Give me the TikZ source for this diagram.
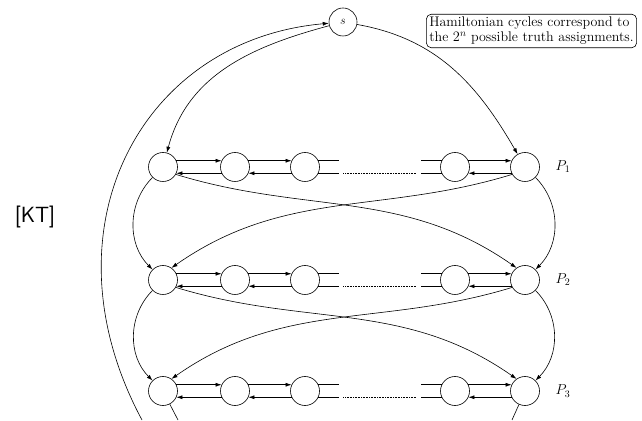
\documentclass[tikz,border=0pt]{standalone}
\usetikzlibrary{arrows.meta}

\begin{document}
\begin{tikzpicture}[x=1pt,y=1pt,line width=0.6pt,
  vtx/.style={circle, draw, minimum size=29pt, inner sep=0pt},
  edge/.style={-{Latex[length=6pt,width=4pt]}}]

\useasboundingbox (0,0) rectangle (642,420);

\node[vtx, minimum size=28pt, font=\large] (s) at (343,398) {$s$};
\node[draw, rounded corners=5pt, align=left, inner sep=3pt,
  font=\fontsize{14}{15}\selectfont] (note) at (531.5,389)
  {Hamiltonian cycles correspond to\\the $2^n$ possible truth assignments.};
\node[font=\fontsize{22}{22}\selectfont\sffamily] (kt) at (35,203) {[KT]};

\foreach \r/\y in {1/253,2/140,3/29}
{
    \foreach \i/\x in {1/163,2/235,3/305,4/455,5/525}
        \node[vtx] (p\r-\i) at (\x,\y) {};
    \node[font=\fontsize{14}{14}\selectfont] (lab\r) at (563,\y) {$P_\r$};
    \foreach \i/\j in {1/2,2/3,4/5}
    {
        \draw[edge] (p\r-\i.25) -- (p\r-\j.155);
        \draw[edge] (p\r-\j.205) -- (p\r-\i.-25);
    }
    \draw (p\r-3.25) -- ++(21,0);
    \draw (p\r-3.-25) -- ++(21,0);
    \draw (p\r-4.155) -- ++(-21,0);
    \draw (p\r-4.205) -- ++(-21,0);
    \draw[densely dotted] ([xshift=25pt]p\r-3.-25) -- ([xshift=-25pt]p\r-4.205);
}

\foreach \r/\q in {1/2,2/3}
{
    \draw[edge] (p\r-1) to[out=225,in=135] (p\q-1);
    \draw[edge] (p\r-5) to[out=-45,in=45] (p\q-5);
    \draw[edge] (p\r-1.-30) to[out=-17,in=145] (p\q-5.125);
    \draw[edge] (p\r-5.210) to[out=197,in=35] (p\q-1.55);
}

\draw[edge] (s) to[out=195,in=75] (p1-1);
\draw[edge] (s) to[out=-10,in=120] (p1-5);

\coordinate (tin) at (142,0);
\coordinate (t1) at (178,0);
\coordinate (t5) at (512,0);
\draw[edge] (tin) .. controls (40,190) and (140,380) .. (s);
\draw (p3-1) -- (t1);
\draw (p3-5) -- (t5);

\end{tikzpicture}
\end{document}
